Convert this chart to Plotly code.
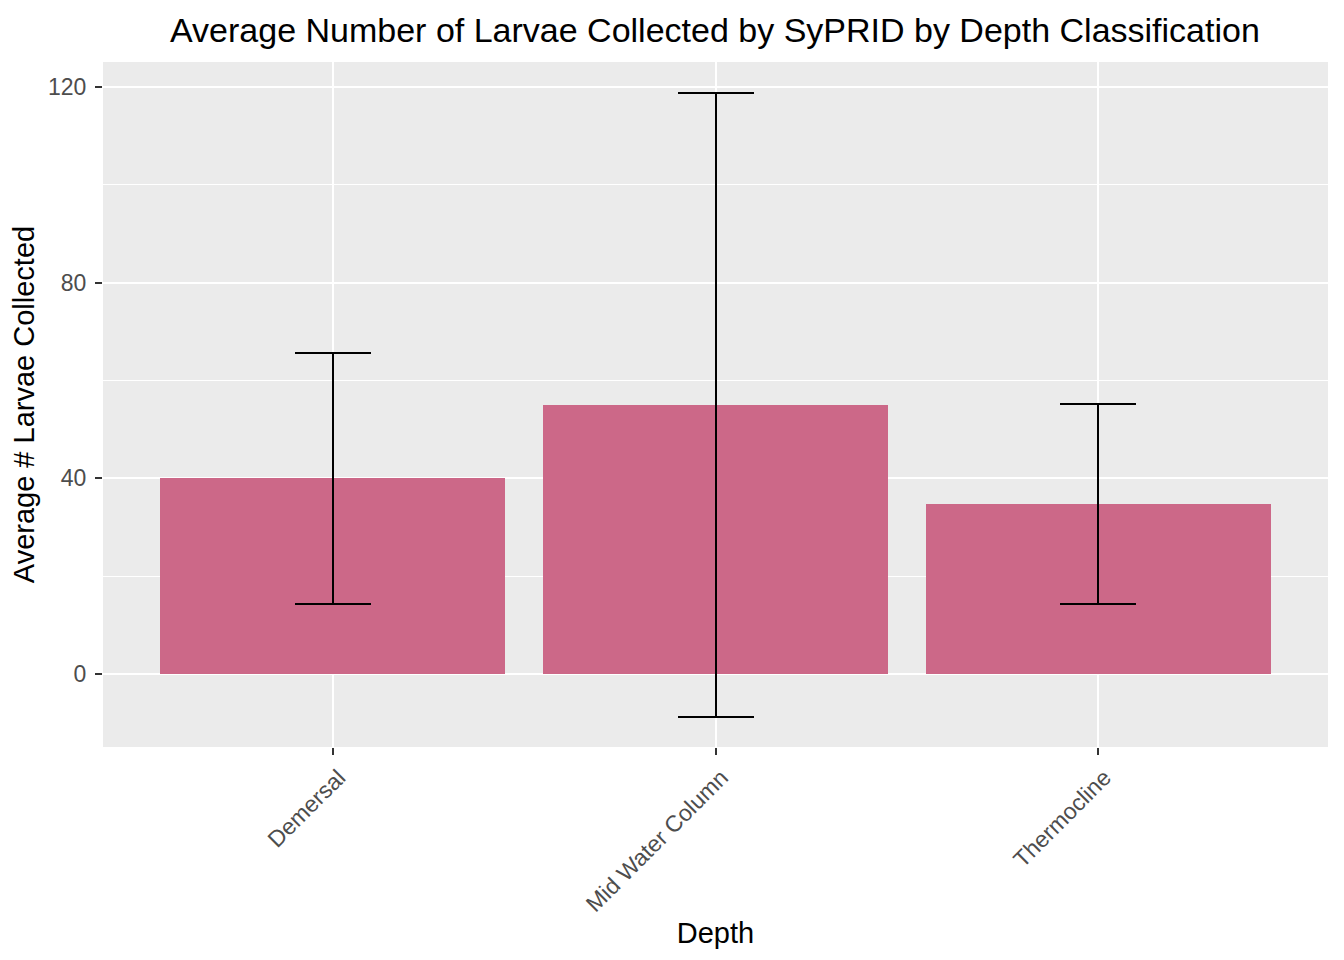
import plotly.graph_objects as go

# Values
depths = ["Demersal", "Mid Water Column", "Thermocline"]
mean_larvae = [40.0, 55.0, 34.8]
sd_larvae = [25.6, 63.8, 20.4]

bar_color = "#CC6888"
panel_bg = "#EBEBEB"

fig = go.Figure()
fig.add_trace(go.Bar(
    x=depths,
    y=mean_larvae,
    width=0.9,
    marker=dict(color=bar_color, line=dict(width=0)),
    error_y=dict(type="data", array=sd_larvae, symmetric=True,
                 color="black", thickness=2, width=38),
))

# page has an 8px body margin, so margins are shifted by that
fig.update_layout(
    width=1344, height=960,
    paper_bgcolor="white",
    plot_bgcolor=panel_bg,
    font=dict(family="Liberation Sans, Arial, sans-serif", color="black"),
    margin=dict(l=95, r=24, t=54, b=221, autoexpand=False),
    showlegend=False,
    bargap=0,
    title=dict(text="Average Number of Larvae Collected by SyPRID by Depth Classification",
               x=0.526, xanchor="center", y=0.977, yanchor="middle",
               font=dict(size=34, color="black")),
)

fig.update_xaxes(
    range=[-0.6, 2.6],
    showgrid=True, gridcolor="white", gridwidth=2,
    ticks="outside", ticklen=7, tickwidth=1.5, tickcolor="#333333",
    tickangle=-45,
    ticklabelshift=6,
    tickfont=dict(size=23, color="#4D4D4D"),
    title=dict(text="Depth", font=dict(size=29), standoff=3),
    zeroline=False,
)

fig.update_yaxes(
    range=[-14.9, 125.1],
    tickvals=[0, 40, 80, 120],
    showgrid=True, gridcolor="white", gridwidth=2,
    minor=dict(tickvals=[20, 60, 100], showgrid=True, gridcolor="white", gridwidth=1, ticks=""),
    ticks="outside", ticklen=7, tickwidth=1.5, tickcolor="#333333",
    ticklabelstandoff=4,
    tickfont=dict(size=23, color="#4D4D4D"),
    title=dict(text="Average # Larvae Collected", font=dict(size=29), standoff=12),
    zeroline=False,
)

fig.write_html("out.html")
